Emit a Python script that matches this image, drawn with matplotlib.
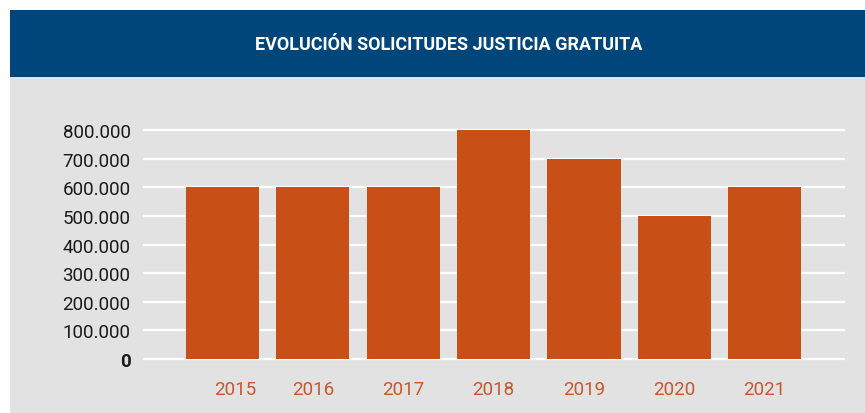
import matplotlib
matplotlib.use('Agg')
from matplotlib import pyplot as plt
from matplotlib.patches import Rectangle
from matplotlib.ticker import FuncFormatter
from matplotlib.transforms import ScaledTranslation

years = ['2015', '2016', '2017', '2018', '2019', '2020', '2021']
solicitudes = [600000, 600000, 600000, 800000, 700000, 500000, 600000]
yticks = [0, 100000, 200000, 300000, 400000, 500000, 600000, 700000, 800000]

titulo = 'EVOLUCIÓN SOLICITUDES JUSTICIA GRATUITA'

azul = '#00467a'
gris = '#e2e2e2'
naranja = '#c84f16'
naranja_txt = '#c9572b'

plt.rcParams['font.family'] = ['Roboto', 'DejaVu Sans']

fig = plt.figure(figsize=(8.65, 4.14), dpi=100, facecolor='white')

# fondo: gris y banda azul del titulo
bg = fig.add_axes([0, 0, 1, 1], zorder=-1)
bg.set_xlim(0, 865)
bg.set_ylim(414, 0)
bg.axis('off')
bg.add_patch(Rectangle((10, 78), 855, 336, facecolor=gris, edgecolor='none'))
bg.add_patch(Rectangle((10, 11), 855, 67, facecolor=azul, edgecolor='none'))
bg.text(449, 45, titulo, color='white', fontsize=13, fontweight='bold',
        ha='center', va='center')

ax = fig.add_axes([143/865, 0.1235, 0.8116, 0.567])
ax.set_facecolor('none')

x = list(range(len(years)))
ax.bar(x, solicitudes, width=0.81, color=naranja, zorder=3)

for v in yticks:
    ax.axhline(v, color='white', linewidth=1.6, zorder=1)

ax.set_xlim(-0.88, 6.89)
ax.set_ylim(-10000, 810000)

ax.set_yticks(yticks)
ax.yaxis.set_major_formatter(FuncFormatter(lambda v, p: '{:,.0f}'.format(v).replace(',', '.')))
ax.tick_params(axis='y', length=0, pad=9, labelsize=13.5, labelcolor='#1a1a1a')
ax.get_yticklabels()[0].set_fontweight('bold')

ax.set_xticks(x)
ax.set_xticklabels(years)
ax.tick_params(axis='x', length=0, pad=13, labelsize=13.5, labelcolor=naranja_txt)
# en el original la etiqueta 2015 esta algo desplazada a la derecha
lab0 = ax.get_xticklabels()[0]
lab0.set_transform(lab0.get_transform() + ScaledTranslation(0.13, 0, fig.dpi_scale_trans))

for s in ax.spines.values():
    s.set_visible(False)

plt.savefig('out.png', dpi=100, facecolor='white')
